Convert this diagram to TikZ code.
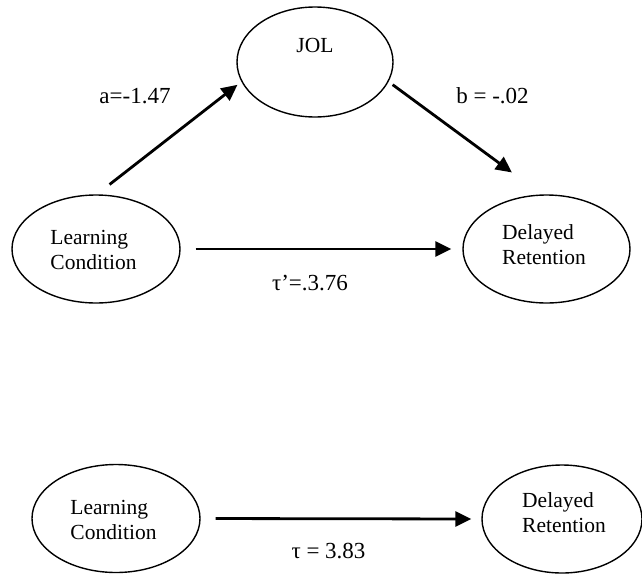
\documentclass[tikz,border=0pt]{standalone}
\usepackage{fontspec}
\setmainfont{Liberation Serif}
\usetikzlibrary{arrows.meta,shapes.geometric}
\begin{document}
\begin{tikzpicture}[x=1pt,y=-1pt,
  el/.style={draw, ellipse, line width=1.4pt, inner sep=0pt},
  nodetext/.style={font=\fontsize{21.5}{25}\selectfont, align=left, inner sep=0pt},
  lab/.style={font=\fontsize{23}{27}\selectfont, inner sep=0pt, anchor=base},
  arr/.style={line width=2.8pt, -{Triangle[length=16pt,width=15pt]}}]
\useasboundingbox (0,0) rectangle (642,573);
% top model
\node[el, minimum width=156pt, minimum height=110pt] (jol) at (315,62) {};
\node[nodetext, anchor=base] (jolt) at (315,52) {JOL};
\node[el, minimum width=168pt, minimum height=108pt] (lc1) at (96,249) {};
\node[nodetext] (lc1t) at (93.5,250.2) {Learning\\Condition};
\node[el, minimum width=167pt, minimum height=108pt] (dr1) at (546.5,249) {};
\node[nodetext] (dr1t) at (544,244.5) {Delayed\\Retention};
\draw[arr, shorten <=16pt, shorten >=5pt] (lc1.89) -- (jol.195);
\draw[arr, shorten <=5pt, shorten >=37pt] (jol.-15) -- (dr1.95);
\draw[arr, shorten <=15pt, shorten >=11pt] (lc1.east) -- (dr1.west);
\node[lab] (la) at (135,103) {a=-1.47};
\node[lab] (lb) at (492.5,103) {b = -.02};
\node[lab] (lt1) at (310,290) {τ’=.3.76};
% bottom model
\node[el, minimum width=168pt, minimum height=108pt] (lc2) at (116,518.5) {};
\node[nodetext] (lc2t) at (113.5,520) {Learning\\Condition};
\node[el, minimum width=160pt, minimum height=108pt] (dr2) at (562,519) {};
\node[nodetext] (dr2t) at (564,513) {Delayed\\Retention};
\draw[arr, shorten <=15pt, shorten >=10pt] (lc2.east) -- (dr2.west);
\node[lab] (lt2) at (328.5,558) {τ = 3.83};
\end{tikzpicture}
\end{document}
